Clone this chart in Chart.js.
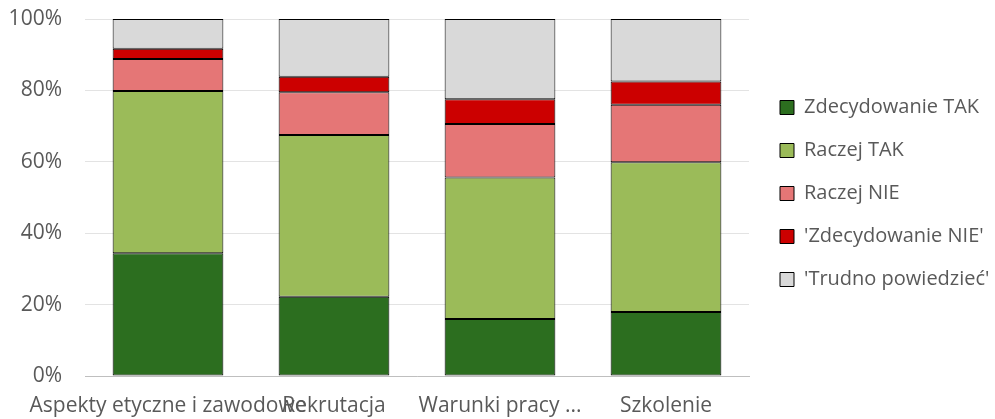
<!DOCTYPE html>
<html>
<head>
<meta charset="utf-8">
<script src="https://cdn.jsdelivr.net/npm/chart.js@4"></script>
<style>
  html, body { margin: 0; padding: 0; background: #fff; }
  #wrap { width: 995px; height: 419px; position: relative; }
</style>
</head>
<body>
<div id="wrap"><canvas id="chart" width="995" height="419"></canvas></div>
<script>
// kategorie i wartości (w %)
const categories = ['Aspekty etyczne i zawodowe', 'Rekrutacja', 'Warunki pracy ...', 'Szkolenie'];
const seriesNames = ['Zdecydowanie TAK', 'Raczej TAK', 'Raczej NIE', "'Zdecydowanie NIE'", "'Trudno powiedzieć'"];
const zdecydowanieTak = [34.4, 22.2, 16.0, 17.9];
const raczejTak = [45.4, 45.3, 39.6, 42.0];
const raczejNie = [9.0, 12.0, 15.0, 16.1];
const zdecydowanieNie = [2.9, 4.3, 6.9, 6.5];
const trudnoPowiedziec = [8.3, 16.2, 22.5, 17.5];
const yTicks = [0, 20, 40, 60, 80, 100];

const colors = ['#2c6e1f', '#9bbb59', '#e57676', '#cc0000', '#d9d9d9'];
const values = [zdecydowanieTak, raczejTak, raczejNie, zdecydowanieNie, trudnoPowiedziec];

const FONT = '"Open Sans", sans-serif';

// legenda: stała szerokość i przesunięcie jak w oryginale
const legendFix = {
    id: 'legendFix',
    beforeLayout(chart) {
        const lg = chart.legend;
        if (lg && !lg._patched) {
            const fit = lg.fit;
            lg.fit = function() { fit.call(this); this.width = 246; };
            lg._patched = true;
        }
    },
    afterLayout(chart) {
        const lg = chart.legend;
        const dx = 780 - (lg.left + lg.options.labels.padding);
        lg.left += dx;
        lg.right += dx;
        lg.top -= 4;
        lg.bottom -= 4;
    }
};

const ctx = document.getElementById('chart').getContext('2d');
new Chart(ctx, {
    type: 'bar',
    data: {
        labels: categories,
        datasets: seriesNames.map((name, i) => ({
            label: name,
            data: values[i],
            backgroundColor: colors[i],
            borderColor: '#000',
            borderWidth: 1,
            borderSkipped: false,
            barPercentage: 0.667,
            categoryPercentage: 1
        }))
    },
    plugins: [legendFix],
    options: {
        responsive: false,
        animation: false,
        layout: { padding: { left: 0, right: 0, top: 19, bottom: 0 } },
        scales: {
            x: {
                stacked: true,
                grid: { display: false, drawTicks: false },
                border: { color: '#bfbfbf', width: 1 },
                afterFit: axis => { axis.height = 43; },
                ticks: {
                    autoSkip: false,
                    maxRotation: 0,
                    color: '#595959',
                    font: { family: FONT, size: 21 },
                    padding: 17
                }
            },
            y: {
                stacked: true,
                min: 0,
                max: 100,
                afterBuildTicks: axis => { axis.ticks = yTicks.map(v => ({ value: v })); },
                afterFit: axis => {
                    axis.width = 85;
                    axis.paddingTop = 0;
                    axis.paddingBottom = 0;
                },
                grid: { color: '#e3e3e3', drawTicks: false },
                border: { display: false },
                ticks: {
                    color: '#595959',
                    font: { family: FONT, size: 21 },
                    padding: 23,
                    callback: v => v + '%'
                }
            }
        },
        plugins: {
            legend: {
                position: 'right',
                fullSize: false,
                labels: {
                    boxWidth: 14,
                    boxHeight: 14,
                    padding: 23,
                    color: '#595959',
                    font: { family: FONT, size: 20 },
                    generateLabels: chart => chart.data.datasets.map((ds, i) => ({
                        text: ds.label,
                        fillStyle: ds.backgroundColor,
                        strokeStyle: '#000',
                        lineWidth: 1,
                        datasetIndex: i,
                        fontColor: '#595959'
                    }))
                }
            },
            tooltip: { enabled: false }
        }
    }
});
</script>
</body>
</html>
